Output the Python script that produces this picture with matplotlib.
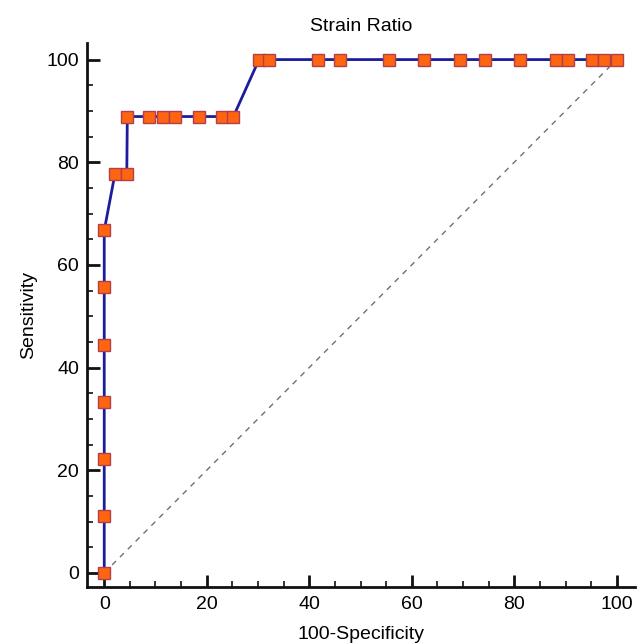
import matplotlib
matplotlib.use("Agg")
import matplotlib.pyplot as plt
from matplotlib.ticker import MultipleLocator

plt.rcParams['font.family'] = ['Liberation Sans', 'DejaVu Sans']

# ROC points (100-Specificity, Sensitivity)
fpr = [0, 0, 0, 0, 0, 0, 0, 2.1, 4.4, 4.5, 8.8, 11.4, 13.8, 18.4, 23.0, 25.2,
       30.2, 32.2, 41.8, 46.0, 55.5, 62.4, 69.4, 74.2, 81.1, 88.1, 90.4, 95.1, 97.5, 100]
tpr = [0, 11.1, 22.2, 33.3, 44.4, 55.6, 66.7, 77.8, 77.8, 88.9, 88.9, 88.9, 88.9, 88.9, 88.9, 88.9,
       100, 100, 100, 100, 100, 100, 100, 100, 100, 100, 100, 100, 100, 100]
x_ticks = [0, 20, 40, 60, 80, 100]
y_ticks = [0, 20, 40, 60, 80, 100]

fig = plt.figure(figsize=(6.44, 6.44), dpi=100)
ax = fig.add_axes([0.1356, 0.089, 0.850, 0.844])

ax.plot([0, 100], [0, 100], linestyle=(0, (4, 4)), color='#707070', linewidth=1.0)
ax.plot(fpr, tpr, color='#1C1C9C', linewidth=2.0, marker='s', markersize=8.5,
        markerfacecolor='#FF6410', markeredgecolor='#B0404A', markeredgewidth=1.0,
        zorder=3, clip_on=False)

ax.set_xlim(-3.3, 103.5)
ax.set_ylim(-2.7, 103.2)
for s in ['top', 'right']:
    ax.spines[s].set_visible(False)
for s in ['left', 'bottom']:
    ax.spines[s].set_linewidth(2.0)
    ax.spines[s].set_color('#111111')

ax.set_xticks(x_ticks)
ax.set_yticks(y_ticks)
ax.xaxis.set_minor_locator(MultipleLocator(5))
ax.yaxis.set_minor_locator(MultipleLocator(5))
ax.tick_params(which='major', direction='in', length=9, width=2.0, labelsize=14, color='#111111')
ax.tick_params(which='minor', direction='in', length=4, width=1.2, color='#111111')
ax.tick_params(axis='x', pad=7)
ax.tick_params(axis='y', pad=6)

ax.set_title('Strain Ratio', fontsize=14, pad=9)
ax.set_xlabel('100-Specificity', fontsize=14, labelpad=9)
ax.set_ylabel('Sensitivity', fontsize=14, labelpad=7)

fig.savefig('out.png', dpi=100)
